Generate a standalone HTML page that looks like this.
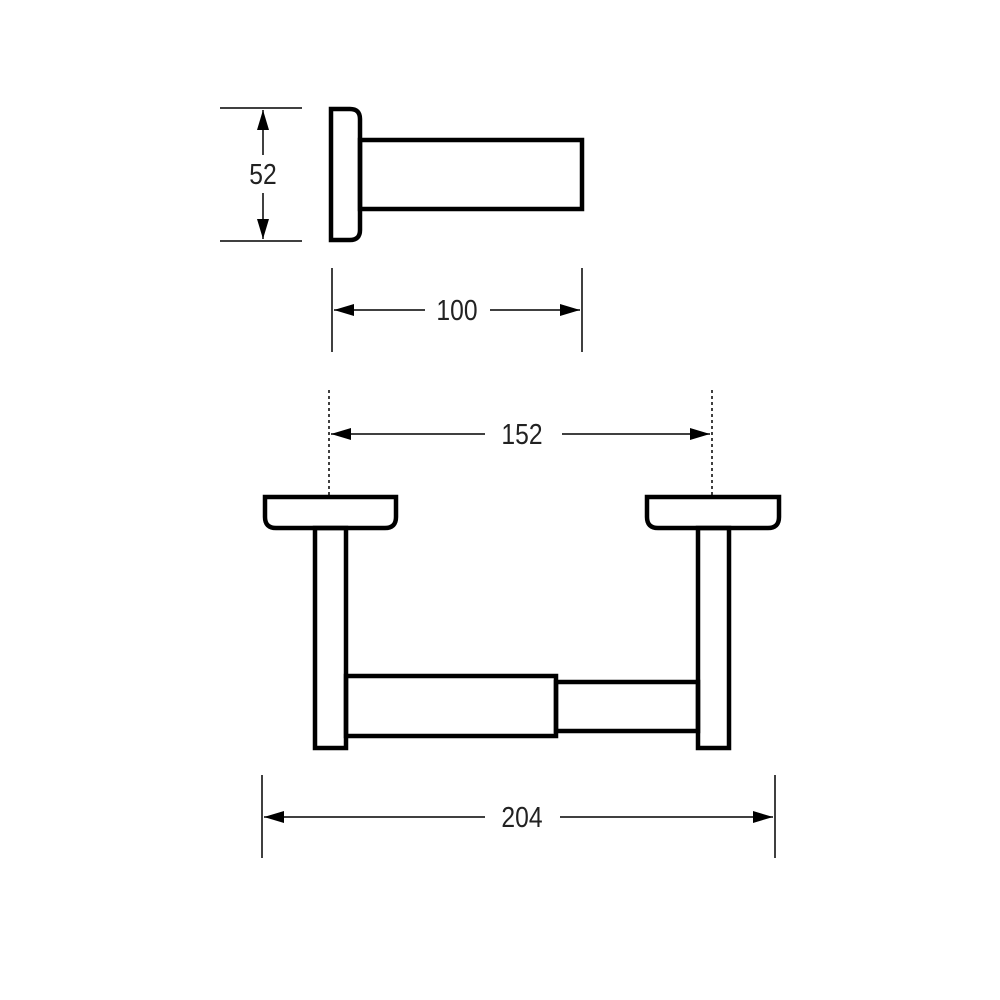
<!DOCTYPE html>
<html><head><meta charset="utf-8"><style>html,body{margin:0;padding:0;background:#fff}svg{display:block}</style></head>
<body>
<svg width="1000" height="1000" viewBox="0 0 1000 1000" xmlns="http://www.w3.org/2000/svg">
<defs>
<marker id="a" viewBox="0 0 20 12" refX="20" refY="6" markerWidth="20" markerHeight="12" markerUnits="userSpaceOnUse" orient="auto-start-reverse"><path d="M0,0 L20,6 L0,12 z" fill="#000"/></marker>
</defs>
<g fill="none" stroke="#000" stroke-width="4.5">
<path d="M331,109 H350 Q360,109 360,119 V230 Q360,240 350,240 H331 Z"/>
<rect x="360" y="140" width="222" height="69"/>
<path d="M265,497 H396 V517 Q396,528 385,528 H276 Q265,528 265,517 Z"/>
<path d="M647,497 H779 V517 Q779,528 768,528 H658 Q647,528 647,517 Z"/>
<rect x="315" y="528" width="31" height="220"/>
<rect x="698" y="528" width="31" height="220"/>
<rect x="346" y="676" width="210" height="60"/>
<rect x="556" y="682" width="142" height="49"/>
</g>
<g stroke="#000" stroke-width="1.5" fill="none">
<line x1="220" y1="108" x2="302" y2="108"/>
<line x1="220" y1="241" x2="302" y2="241"/>
<line x1="263" y1="155" x2="263" y2="110" marker-end="url(#a)"/>
<line x1="263" y1="193" x2="263" y2="239" marker-end="url(#a)"/>
<line x1="332" y1="268" x2="332" y2="352"/>
<line x1="582" y1="268" x2="582" y2="352"/>
<line x1="425" y1="310" x2="334" y2="310" marker-end="url(#a)"/>
<line x1="490" y1="310" x2="580" y2="310" marker-end="url(#a)"/>
<line x1="329" y1="390" x2="329" y2="495" stroke-dasharray="3,3"/>
<line x1="712" y1="390" x2="712" y2="495" stroke-dasharray="3,3"/>
<line x1="485" y1="434" x2="331" y2="434" marker-end="url(#a)"/>
<line x1="562" y1="434" x2="710" y2="434" marker-end="url(#a)"/>
<line x1="262" y1="775" x2="262" y2="858"/>
<line x1="775" y1="775" x2="775" y2="858"/>
<line x1="485" y1="817" x2="264" y2="817" marker-end="url(#a)"/>
<line x1="560" y1="817" x2="773" y2="817" marker-end="url(#a)"/>
</g>
<g font-family="Liberation Sans, sans-serif" font-size="29" fill="#222" text-anchor="middle">
<text transform="translate(263,184) scale(0.85,1)">52</text>
<text transform="translate(457,320) scale(0.85,1)">100</text>
<text transform="translate(522,444) scale(0.85,1)">152</text>
<text transform="translate(522,827) scale(0.85,1)">204</text>
</g>
</svg>
</body></html>
